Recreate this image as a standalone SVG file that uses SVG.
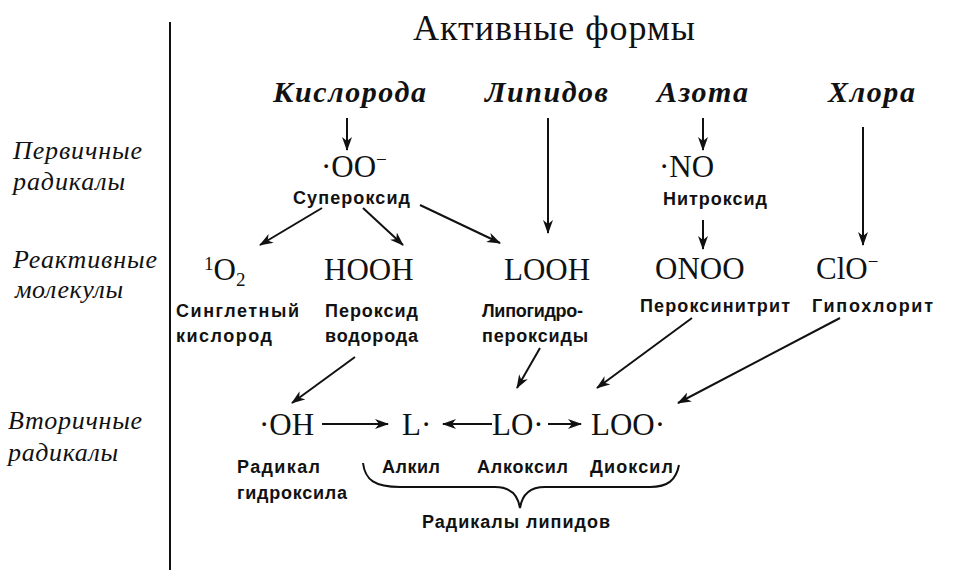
<svg xmlns="http://www.w3.org/2000/svg" width="960" height="584" viewBox="0 0 960 584">
<style>
.title{font-family:"Liberation Serif",serif;font-size:36px;fill:#111}
.hdr{font-family:"Liberation Serif",serif;font-size:30px;font-weight:bold;font-style:italic;fill:#111}
.side{font-family:"Liberation Serif",serif;font-size:26px;font-style:italic;fill:#111}
.f{font-family:"Liberation Serif",serif;font-size:31px;fill:#111}
.sup{font-size:19px}
.lbl{font-family:"Liberation Sans",sans-serif;font-size:18px;font-weight:bold;fill:#111}
.ln{stroke:#111;stroke-width:2;fill:none}
.arr{stroke:#111;stroke-width:2;fill:none;marker-end:url(#ah)}
</style>
<defs>
<marker id="ah" viewBox="0 0 14 10" refX="13" refY="5" markerWidth="14" markerHeight="10" markerUnits="userSpaceOnUse" orient="auto">
<path d="M0,0 L14,5 L0,10 L4,5 z" fill="#111"/>
</marker>
</defs>
<rect width="960" height="584" fill="#fff"/>
<line class="ln" x1="170" y1="22" x2="170" y2="570"/>

<g id="title"><text class="title" x="413" y="40" textLength="282">Активные формы</text></g>

<g id="side-primary"><text class="side" x="13" y="159" textLength="129">Первичные</text><text class="side" x="13" y="190" textLength="112">радикалы</text></g>
<g id="side-reactive"><text class="side" x="13" y="268" textLength="144">Реактивные</text><text class="side" x="15" y="298" textLength="108">молекулы</text></g>
<g id="side-secondary"><text class="side" x="8" y="429" textLength="134">Вторичные</text><text class="side" x="8" y="461" textLength="110">радикалы</text></g>

<g id="h-oxygen"><text class="hdr" x="273" y="102" textLength="153">Кислорода</text></g>
<g id="h-lipids"><text class="hdr" x="485" y="102" textLength="123">Липидов</text></g>
<g id="h-nitrogen"><text class="hdr" x="657" y="102" textLength="91">Азота</text></g>
<g id="h-chlorine"><text class="hdr" x="828" y="102" textLength="87">Хлора</text></g>

<g id="superoxide"><text class="f" x="321" y="177">·OO<tspan class="sup" dy="-11">−</tspan></text><text class="lbl" x="293" y="204" textLength="117">Супероксид</text></g>
<g id="nitroxide"><text class="f" x="659" y="177">·NO</text><text class="lbl" x="663" y="205" textLength="104">Нитроксид</text></g>

<g id="singlet"><text class="f" x="204" y="280"><tspan class="sup" dy="-10">1</tspan><tspan dy="10">O</tspan><tspan class="sup" dy="6">2</tspan></text><text class="lbl" x="176" y="317" textLength="123">Синглетный</text><text class="lbl" x="176" y="342" textLength="96">кислород</text></g>
<g id="hooh"><text class="f" x="324" y="280">HOOH</text><text class="lbl" x="325" y="317" textLength="93">Пероксид</text><text class="lbl" x="325" y="342" textLength="93">водорода</text></g>
<g id="looh"><text class="f" x="504" y="280">LOOH</text><text class="lbl" x="482" y="317" textLength="101">Липогидро-</text><text class="lbl" x="482" y="342" textLength="106">пероксиды</text></g>
<g id="onoo"><text class="f" x="655" y="279">ONOO</text><text class="lbl" x="640" y="312" textLength="150">Пероксинитрит</text></g>
<g id="clo"><text class="f" x="816" y="279">ClO<tspan class="sup" dy="-11">−</tspan></text><text class="lbl" x="812" y="312" textLength="121">Гипохлорит</text></g>

<g id="oh"><text class="f" x="259" y="435">·OH</text><text class="lbl" x="237" y="473" textLength="83">Радикал</text><text class="lbl" x="237" y="499" textLength="110">гидроксила</text></g>
<g id="alkyl"><text class="f" x="402" y="435">L·</text><text class="lbl" x="382" y="473" textLength="58">Алкил</text></g>
<g id="alkoxyl"><text class="f" x="492" y="435">LO·</text><text class="lbl" x="477" y="473" textLength="91">Алкоксил</text></g>
<g id="dioxyl"><text class="f" x="591" y="435">LOO·</text><text class="lbl" x="590" y="473" textLength="83">Диоксил</text></g>
<g id="lipid-radicals"><path class="ln" d="M363,463 C365,480 375,487 400,487 L495,487 C510,487 518,495 520,508 C522,495 530,487 545,487 L650,487 C668,487 676,480 679,465"/><text class="lbl" x="422" y="528" textLength="188">Радикалы липидов</text></g>

<g id="connectors">
<line class="arr" x1="347" y1="118" x2="347" y2="150"/>
<line class="arr" x1="548" y1="118" x2="548" y2="233"/>
<line class="arr" x1="703" y1="118" x2="703" y2="150"/>
<line class="arr" x1="863" y1="127" x2="863" y2="245"/>
<line class="arr" x1="703" y1="220" x2="703" y2="249"/>
<line class="arr" x1="322" y1="208" x2="260" y2="245"/>
<line class="arr" x1="363" y1="208" x2="403" y2="245"/>
<line class="arr" x1="420" y1="205" x2="500" y2="243"/>
<line class="arr" x1="355" y1="357" x2="292" y2="403"/>
<line class="arr" x1="540" y1="348" x2="517" y2="388"/>
<line class="arr" x1="692" y1="318" x2="597" y2="388"/>
<line class="arr" x1="840" y1="318" x2="678" y2="403"/>
<line class="arr" x1="322" y1="424" x2="388" y2="424"/>
<line class="arr" x1="492" y1="424" x2="443" y2="424"/>
<line class="arr" x1="548" y1="424" x2="581" y2="424"/>
</g>
</svg>
